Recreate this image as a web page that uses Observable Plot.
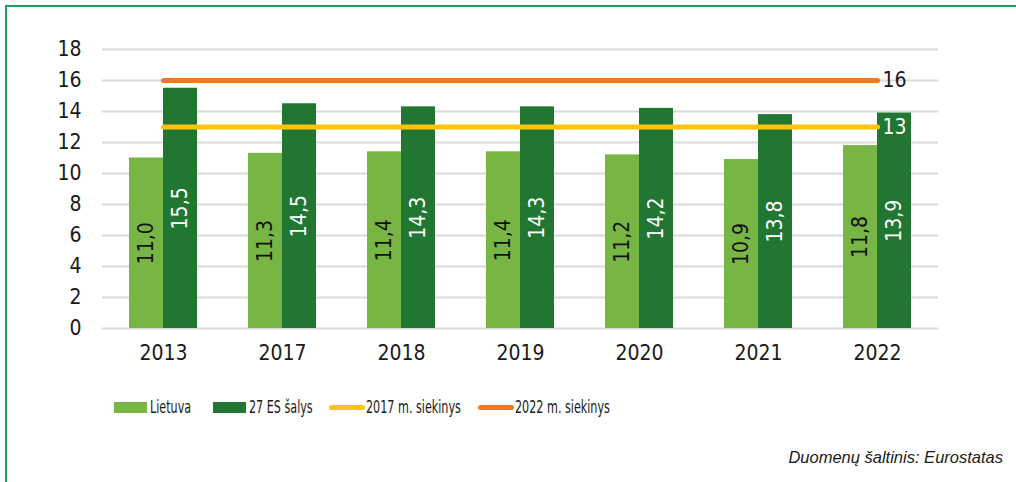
<!DOCTYPE html>
<html>
<head>
<meta charset="utf-8">
<script src="https://cdn.jsdelivr.net/npm/d3@7"></script>
<script src="https://cdn.jsdelivr.net/npm/@observablehq/plot@0.6"></script>
<style>
  html, body { margin: 0; padding: 0; background: #fff; }
  body { width: 1016px; height: 482px; position: relative; overflow: hidden; font-family: "Liberation Sans Narrow", "DejaVu Sans Condensed", "Liberation Sans", sans-serif; }
  #frame { position: absolute; left: 5px; top: 5px; width: 1100px; height: 600px; border-left: 2px solid #1ea35a; border-top: 2px solid #1ea35a; }
  #chart { position: absolute; left: 0; top: 0; }
  #legend { position: absolute; left: 0; top: 394px; width: 1016px; height: 26px; font-size: 17.5px; color: #1a1a1a; }
  .li { position: absolute; top: 0; display: flex; align-items: center; height: 26px; white-space: nowrap; }
  .sw { display: inline-block; width: 33px; height: 11px; margin-right: 3px; flex: none; }
  .ln { display: inline-block; width: 36px; height: 5px; border-radius: 3px; margin-right: 1px; flex: none; }
  .tx { display: inline-block; transform: scaleX(0.71); transform-origin: left center; }
  #caption { position: absolute; right: 13px; top: 448px; font-family: "Liberation Sans", sans-serif; font-size: 16.5px; font-style: italic; color: #1a1a1a; }
</style>
</head>
<body>
<div id="frame"></div>
<div id="chart"></div>
<div id="legend"></div>
<div id="caption">Duomenų šaltinis: Eurostatas</div>
<script>
const years = ["2013", "2017", "2018", "2019", "2020", "2021", "2022"];
const lietuva = [11.0, 11.3, 11.4, 11.4, 11.2, 10.9, 11.8];
const es27 = [15.5, 14.5, 14.3, 14.3, 14.2, 13.8, 13.9];
const target2017 = 13;
const target2022 = 16;
const yTicks = [0, 2, 4, 6, 8, 10, 12, 14, 16, 18];
const seriesNames = ["Lietuva", "27 ES šalys", "2017 m. siekinys", "2022 m. siekinys"];
const colors = { lt: "#77b645", es: "#217732", t17: "#ffc20e", t22: "#f47a20" };

const fmt = v => v.toFixed(1).replace(".", ",");
const ltData = years.map((y, i) => ({ year: y, v: lietuva[i] }));
const esData = years.map((y, i) => ({ year: y, v: es27[i] }));
const t17Data = [{ year: years[0], v: target2017 }, { year: years[years.length - 1], v: target2017 }];
const t22Data = [{ year: years[0], v: target2022 }, { year: years[years.length - 1], v: target2022 }];

const half = 34;
const FONT = "Liberation Sans Narrow, DejaVu Sans Condensed, Liberation Sans, sans-serif";

const plot = Plot.plot({
  width: 1016,
  height: 372,
  marginLeft: 102,
  marginRight: 78,
  marginTop: 49,
  marginBottom: 44,
  style: { fontFamily: FONT, fontSize: "21px", color: "#1a1a1a", background: "transparent" },
  x: { domain: years, paddingInner: 0.43, paddingOuter: 0.215, label: null, tickSize: 0, tickPadding: 17 },
  y: { domain: [0, 18], ticks: yTicks, label: null, tickSize: 0, tickPadding: 21, grid: false },
  marks: [
    Plot.gridY(yTicks, { stroke: "#d9d9d9", strokeOpacity: 1, strokeWidth: 2 }),
    Plot.ruleX([0], { x: () => 0, stroke: "#d9d9d9", strokeWidth: 2, frameAnchor: "left" }),
    Plot.barY(ltData, { x: "year", y: "v", fill: colors.lt, insetRight: half }),
    Plot.barY(esData, { x: "year", y: "v", fill: colors.es, insetLeft: half }),
    Plot.text(ltData, { x: "year", y: d => d.v / 2, text: d => fmt(d.v), rotate: -90, dx: -half / 2, fill: "#111", fontSize: 21 }),
    Plot.text(esData, { x: "year", y: d => d.v / 2, text: d => fmt(d.v), rotate: -90, dx: half / 2, fill: "#fff", fontSize: 21 }),
    Plot.line(t17Data, { x: "year", y: "v", stroke: colors.t17, strokeWidth: 5, strokeLinecap: "round" }),
    Plot.line(t22Data, { x: "year", y: "v", stroke: colors.t22, strokeWidth: 5, strokeLinecap: "round" }),
    Plot.text([t22Data[1]], { x: "year", y: "v", text: d => String(d.v), dx: 5, textAnchor: "start", fill: "#1a1a1a", fontSize: 21 }),
    Plot.text([t17Data[1]], { x: "year", y: "v", text: d => String(d.v), dx: 5, textAnchor: "start", fill: "#fff", fontSize: 21 })
  ]
});
document.getElementById("chart").appendChild(plot);

// Legend
const legend = document.getElementById("legend");
const items = [
  { name: seriesNames[0], color: colors.lt, kind: "sw", left: 114 },
  { name: seriesNames[1], color: colors.es, kind: "sw", left: 213 },
  { name: seriesNames[2], color: colors.t17, kind: "ln", left: 329 },
  { name: seriesNames[3], color: colors.t22, kind: "ln", left: 478 }
];
items.forEach(it => {
  const d = document.createElement("div");
  d.className = "li";
  d.style.left = it.left + "px";
  const s = document.createElement("span");
  s.className = it.kind;
  s.style.background = it.color;
  d.appendChild(s);
  const t = document.createElement("span");
  t.className = "tx";
  t.textContent = it.name;
  d.appendChild(t);
  legend.appendChild(d);
});
</script>
</body>
</html>
